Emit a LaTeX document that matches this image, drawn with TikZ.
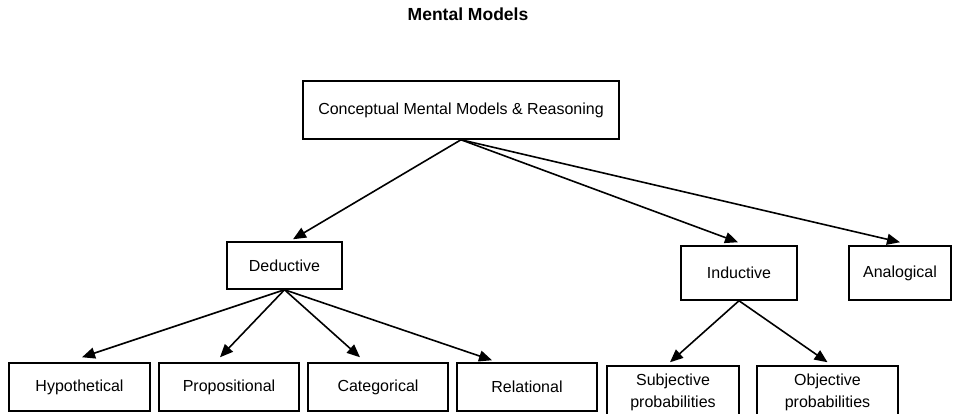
\documentclass[tikz,border=0pt]{standalone}
\usepackage{fontspec}
\setmainfont{Liberation Sans}
\usetikzlibrary{arrows.meta}
\begin{document}
\begin{tikzpicture}[x=1pt,y=-1pt,
  box/.style={draw, line width=1.5pt, inner sep=0pt, align=center,
    font=\fontsize{16}{22}\selectfont},
  arr/.style={line width=1.6pt, -{Triangle[length=13pt,width=11pt]}},
  heading/.style={font=\fontsize{17.5}{20}\selectfont\bfseries}]
\useasboundingbox (0,0) rectangle (953,413);

% title
\node[heading] (title) at (468,14) {Mental Models};

% root
\node[box, minimum width=316pt, minimum height=58pt] (root) at (461,110)
  {Conceptual Mental Models \& Reasoning};

% second level
\node[box, minimum width=115pt, minimum height=47pt] (ded) at (284.5,265.5) {Deductive};
\node[box, minimum width=116pt, minimum height=54pt] (ind) at (739,273) {Inductive};
\node[box, minimum width=102pt, minimum height=54pt] (ana) at (900,273) {Analogical};

% leaves of the deductive branch
\node[box, minimum width=141pt, minimum height=48pt] (hyp) at (79.5,387) {Hypothetical};
\node[box, minimum width=140pt, minimum height=48pt] (prop) at (229,387) {Propositional};
\node[box, minimum width=140pt, minimum height=48pt] (cat) at (378,387) {Categorical};
\node[box, minimum width=140pt, minimum height=48pt] (rel) at (527,387) {Relational};

% leaves of the inductive branch
\node[box, minimum width=132pt, minimum height=52pt] (subj) at (673,392) {Subjective\\probabilities};
\node[box, minimum width=141pt, minimum height=52pt] (obj) at (827.5,392) {Objective\\probabilities};

% connectors
\draw[arr] (root.south) -- ([xshift=8.5pt,yshift=2pt]ded.north);
\draw[arr] (root.south) -- ([xshift=-1pt,yshift=3pt]ind.north);
\draw[arr] (root.south) -- ([yshift=3pt]ana.north);

\draw[arr] (ded.south) -- ([xshift=2.5pt,yshift=5pt]hyp.north);
\draw[arr] (ded.south) -- ([xshift=-9pt,yshift=5pt]prop.north);
\draw[arr] (ded.south) -- ([xshift=-18pt,yshift=5pt]cat.north);
\draw[arr] (ded.south) -- ([xshift=-35pt,yshift=2pt]rel.north);

\draw[arr] (ind.south) -- ([xshift=-3pt,yshift=3pt]subj.north);
\draw[arr] (ind.south) -- ([yshift=3pt]obj.north);
\end{tikzpicture}
\end{document}
